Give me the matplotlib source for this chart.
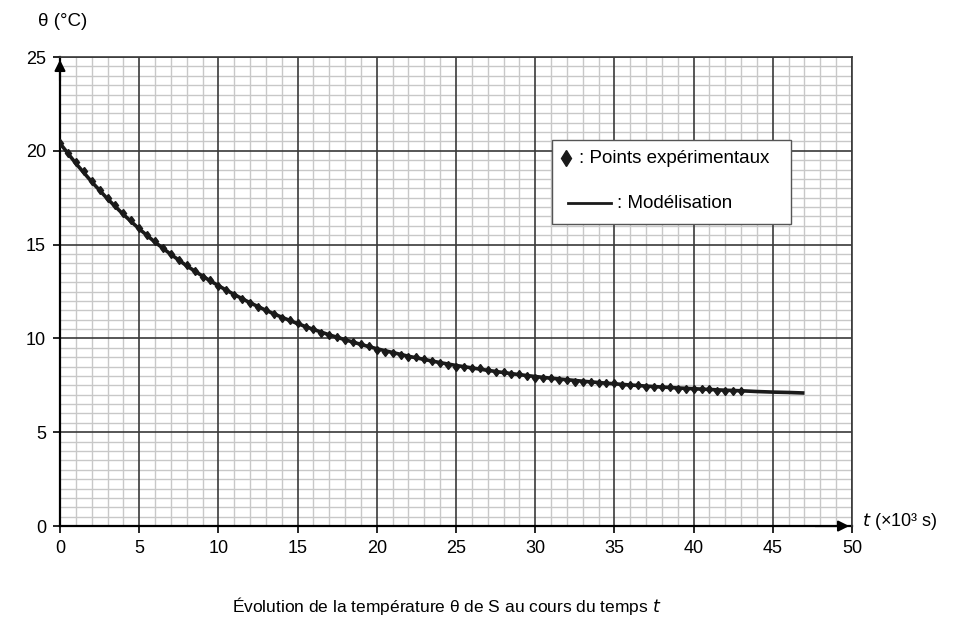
import matplotlib
matplotlib.use("Agg")
import matplotlib.pyplot as plt
from matplotlib.patches import Rectangle

plt.rcParams['font.family'] = ['Liberation Sans', 'DejaVu Sans']

# Experimental points, one every 0.5 x10^3 s from 0 to 43
t_exp = [i * 0.5 for i in range(87)]
theta_exp = [
    20.4, 19.9, 19.4, 18.9, 18.4, 17.9, 17.5, 17.1, 16.7, 16.3,
    15.9, 15.5, 15.2, 14.8, 14.5, 14.2, 13.9, 13.6, 13.3, 13.1,
    12.8, 12.6, 12.3, 12.1, 11.9, 11.7, 11.5, 11.3, 11.1, 11.0,
    10.8, 10.6, 10.5, 10.3, 10.2, 10.1, 9.9, 9.8, 9.7, 9.6,
    9.4, 9.3, 9.2, 9.1, 9.0, 9.0, 8.9, 8.8, 8.7, 8.6,
    8.5, 8.5, 8.4, 8.4, 8.3, 8.2, 8.2, 8.1, 8.1, 8.0,
    7.9, 7.9, 7.9, 7.8, 7.8, 7.7, 7.7, 7.7, 7.6, 7.6,
    7.6, 7.5, 7.5, 7.5, 7.4, 7.4, 7.4, 7.4, 7.3, 7.3,
    7.3, 7.3, 7.3, 7.2, 7.2, 7.2, 7.2,
]

# Model curve, read every 1 x10^3 s from 0 to 47
t_model = list(range(48))
theta_model = [
    20.40, 19.33, 18.35, 17.44, 16.61, 15.84, 15.13, 14.48, 13.87, 13.32,
    12.81, 12.34, 11.90, 11.50, 11.13, 10.79, 10.48, 10.19, 9.93, 9.68,
    9.45, 9.25, 9.05, 8.88, 8.71, 8.56, 8.43, 8.30, 8.18, 8.07,
    7.97, 7.88, 7.80, 7.72, 7.65, 7.58, 7.52, 7.46, 7.41, 7.36,
    7.32, 7.28, 7.24, 7.21, 7.17, 7.14, 7.12, 7.09,
]

x_ticks = [0, 5, 10, 15, 20, 25, 30, 35, 40, 45, 50]
y_ticks = [0, 5, 10, 15, 20, 25]

fig = plt.figure(figsize=(9.6, 6.3), dpi=100)
ax = fig.add_axes([0.0625, 0.165, 0.825, 0.7445])
ax.set_xlim(0, 50)
ax.set_ylim(0, 25)
ax.set_xticks(x_ticks)
ax.set_yticks(y_ticks)

# graph-paper grid: light lines first, dark ones on top
for i in range(51):
    if i % 5:
        ax.axvline(i, color='#c8c8c8', lw=1.0, zorder=0)
for j in range(51):
    if j % 10:
        ax.axhline(j * 0.5, color='#c8c8c8', lw=1.0, zorder=0)
for xv in x_ticks:
    ax.axvline(xv, color='#3a3a3a', lw=1.2, zorder=1)
for yv in y_ticks:
    ax.axhline(yv, color='#3a3a3a', lw=1.2, zorder=1)

ax.tick_params(which='major', direction='out', length=5, width=1.2,
               labelsize=13, colors='black', pad=5)

for side in ['top', 'right']:
    ax.spines[side].set_color('#3a3a3a')
    ax.spines[side].set_linewidth(1.2)
for side in ['left', 'bottom']:
    ax.spines[side].set_color('black')
    ax.spines[side].set_linewidth(1.6)
    ax.spines[side].set_zorder(2)

# arrows on axes
ax.annotate('', xy=(0, 25), xytext=(0, 23.6),
            arrowprops=dict(arrowstyle='-|>', color='black', lw=1.5,
                            mutation_scale=16), annotation_clip=False)
ax.annotate('', xy=(50, 0), xytext=(47.5, 0),
            arrowprops=dict(arrowstyle='-|>', color='black', lw=1.5,
                            mutation_scale=16), annotation_clip=False)

# data
ax.plot(t_exp, theta_exp, linestyle='none', marker='d', color='#1a1a1a',
        markersize=4.5, zorder=3)
ax.plot(t_model, theta_model, color='#1a1a1a', lw=2.6, zorder=4,
        solid_capstyle='butt')

# legend box drawn by hand
ax.add_patch(Rectangle((31.05, 16.1), 15.1, 4.48, facecolor='white',
                       edgecolor='#555555', lw=1.0, zorder=5))
ax.plot([31.95], [19.6], marker='d', color='#1a1a1a', markersize=8, zorder=6)
ax.text(32.75, 19.6, ': Points expérimentaux', fontsize=13.5, va='center',
        ha='left', zorder=6)
ax.plot([32.1, 34.8], [17.2, 17.2], color='#1a1a1a', lw=2, zorder=6)
ax.text(35.15, 17.2, ': Modélisation', fontsize=13.5, va='center', ha='left',
        zorder=6)

# axis labels
fig.text(38 / 960, 1 - 22 / 630, 'θ (°C)', fontsize=13.5, va='center', ha='left')
fig.text(862 / 960, 1 - 521 / 630, r'$\it{t}$ (×10³ s)', fontsize=13,
         va='center', ha='left')
fig.text(447 / 960, 1 - 606 / 630,
         'Évolution de la température θ de S au cours du temps $\\it{t}$',
         fontsize=12.5, va='center', ha='center')

fig.savefig('out.png', dpi=100)
